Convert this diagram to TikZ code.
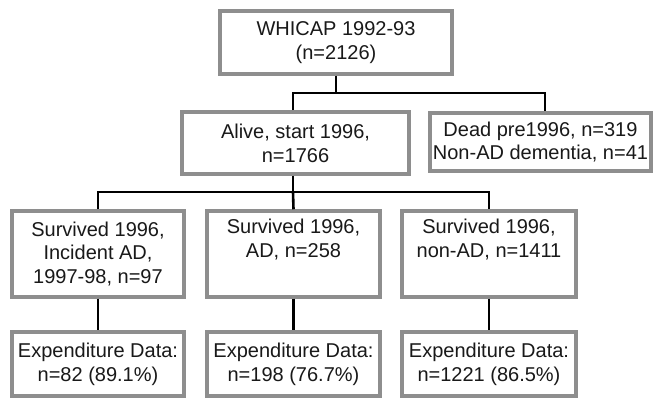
\documentclass[tikz,border=0pt]{standalone}
\usepackage{fontspec}
\setmainfont{Liberation Sans}
\begin{document}
\begin{tikzpicture}[x=1pt,y=-1pt,
  box/.style={draw=boxgray,line width=3.5pt,fill=white,inner sep=0pt,align=center,
    font=\fontsize{20}{23.8}\selectfont,text=black!90},
  link/.style={draw=black,line width=2.6pt}]
\definecolor{boxgray}{HTML}{8E8E8E}
\useasboundingbox (0,0) rectangle (657,398);
\fill[white] (0,0) rectangle (657,398);
\node[box,minimum width=232pt,minimum height=63pt] (top) at (336,42.5) {WHICAP 1992-93\\(n=2126)};
\node[box,minimum width=227pt,minimum height=62pt] (alive) at (295.5,143) {Alive, start 1996,\\n=1766};
\node[box,minimum width=221pt,minimum height=58pt] (dead) at (540.5,142) {Dead pre1996, n=319\\Non-AD dementia, n=41};
\node[box,minimum width=172pt,minimum height=86pt] (s1) at (98,254) {Survived 1996,\\Incident AD,\\1997-98, n=97};
\node[box,minimum width=173pt,minimum height=86pt] (s2) at (293.5,254) {Survived 1996,\\AD, n=258\\\strut};
\node[box,minimum width=174pt,minimum height=86pt] (s3) at (489,254) {Survived 1996,\\non-AD, n=1411\\\strut};
\node[box,minimum width=172pt,minimum height=64pt] (e1) at (98,364) {Expenditure Data:\\n=82 (89.1\%)};
\node[box,minimum width=173pt,minimum height=64pt] (e2) at (293.5,364) {Expenditure Data:\\n=198 (76.7\%)};
\node[box,minimum width=174pt,minimum height=64pt] (e3) at (489,364) {Expenditure Data:\\n=1221 (86.5\%)};
\coordinate (j1) at (336,93);
\coordinate (j2) at (293,192);
\draw[link] (top.south) -- (j1);
\draw[link] ([xshift=-2.5pt]alive.north) |- (j1) -| ([xshift=4.5pt]dead.north);
\draw[link] ([xshift=-2.5pt]alive.south) -- (j2);
\draw[link] (s1.north) |- (j2) -| (s3.north);
\draw[link] (j2) -- (s2.north);
\draw[link] (s1.south) -- (e1.north);
\draw[link] (s2.south) -- (e2.north);
\draw[link] (s3.south) -- (e3.north);
\end{tikzpicture}
\end{document}
